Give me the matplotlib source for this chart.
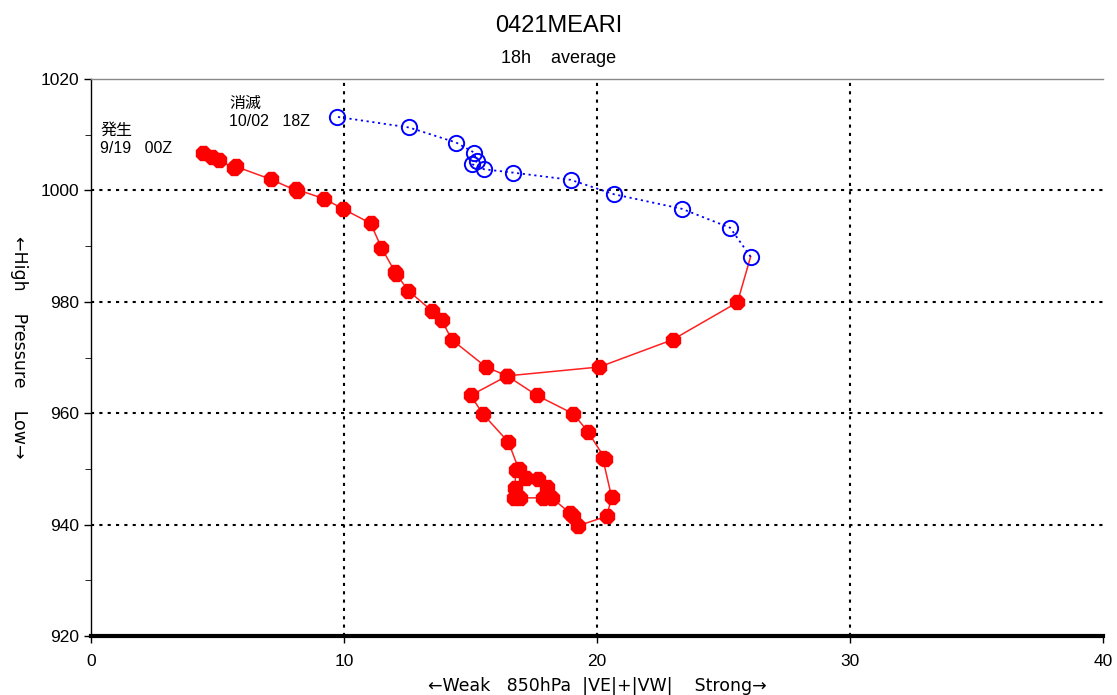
import matplotlib.pyplot as plt

plt.rcParams['font.family'] = ['Liberation Sans', 'DejaVu Sans', 'Noto Sans CJK JP']

# --- DONNEES : phase typhon (rouge) ---
typhon_x = [4.44, 4.77, 5.07, 5.65, 5.72, 7.10, 8.15, 8.10, 9.22, 9.95,
            11.05, 11.48, 12.06, 12.00, 12.54, 13.49, 13.86, 14.26, 15.61, 16.45,
            17.62, 19.06, 19.64, 20.32, 20.22, 20.58, 20.38, 19.26, 19.04, 18.95,
            18.21, 17.88, 16.95, 16.70, 16.76, 16.78, 17.19, 17.68, 18.01, 16.90,
            16.50, 15.48, 15.01, 16.45, 20.09, 22.99, 25.55]
typhon_p = [1006.8, 1006.0, 1005.4, 1004.0, 1004.3, 1002.0, 999.9, 1000.2, 998.5, 996.7,
            994.1, 989.7, 985.0, 985.4, 982.0, 978.3, 976.7, 973.2, 968.3, 966.7,
            963.2, 959.9, 956.7, 951.8, 952.0, 944.9, 941.5, 939.8, 941.6, 942.0,
            944.8, 944.8, 944.8, 944.8, 946.6, 949.8, 948.3, 948.1, 946.8, 950.0,
            954.8, 959.9, 963.2, 966.7, 968.3, 973.2, 979.9]

# --- DONNEES : phase extratropicale (bleu) ---
extra_x = [26.07, 25.26, 23.35, 20.68, 18.96, 16.67, 15.53, 15.07, 15.24, 15.14,
           14.43, 12.57, 9.74]
extra_p = [988.1, 993.3, 996.7, 999.3, 1001.9, 1003.2, 1003.8, 1004.7, 1005.2, 1006.8,
           1008.6, 1011.3, 1013.2]

fig = plt.figure(figsize=(11.17, 6.95), dpi=100)
ax = fig.add_axes([0.0815, 0.0849, 0.906, 0.8014])

# trait rouge jusqu'au premier point bleu
ax.plot(typhon_x + extra_x[:1], typhon_p + extra_p[:1], color='#ff2020', lw=1.1, zorder=3)
ax.plot(typhon_x, typhon_p, linestyle='none', marker='8', ms=10.5,
        color='red', mec='red', zorder=4)
ax.plot(extra_x, extra_p, linestyle=(0, (1.2, 2)), color='blue', lw=1.3, marker='o', ms=11,
        mfc='none', mec='blue', mew=1.4, zorder=4)

ax.set_xlim(0, 40)
ax.set_ylim(920, 1020)
ax.set_xticks([0, 10, 20, 30, 40])
ax.set_yticks([920, 940, 960, 980, 1000, 1020])
ax.set_yticks([930, 950, 970, 990, 1010], minor=True)
ax.tick_params(direction='out', length=5, labelsize=12.5, width=1)
ax.tick_params(axis='y', which='minor', length=4)
ax.tick_params(axis='x', pad=8)

for v in [10, 20, 30]:
    ax.axvline(v, color='black', linestyle=(0, (1.5, 2.5)), lw=1.5, zorder=1)
for v in [940, 960, 980, 1000]:
    ax.axhline(v, color='black', linestyle=(0, (1.5, 2.5)), lw=1.5, zorder=1)

ax.spines['right'].set_visible(False)
ax.spines['top'].set_color('#888888')
ax.spines['top'].set_linewidth(1.0)
ax.spines['bottom'].set_linewidth(3)
ax.spines['left'].set_linewidth(1)

ax.text(0.36, 1012.2, "発生\n9/19   00Z", fontsize=11.5, va='top', ha='left', linespacing=1.3)
ax.text(5.45, 1017.0, "消滅\n10/02   18Z", fontsize=11.5, va='top', ha='left', linespacing=1.3)

fig.text(0.5, 0.963, "0421MEARI", fontsize=17, ha='center', va='center')
fig.text(0.5, 0.916, "18h    average", fontsize=13, ha='center', va='center')
fig.text(0.535, 0.013, "←Weak   850hPa  |VE|+|VW|    Strong→", fontsize=12.5,
         ha='center', va='center', family=['DejaVu Sans'])
fig.text(0.017, 0.50, "←High    Pressure    Low→", fontsize=12.5, rotation=270,
         ha='center', va='center', family=['DejaVu Sans'])

plt.savefig("out.png", dpi=100)
